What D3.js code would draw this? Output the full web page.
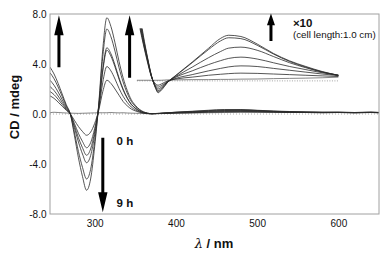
<!DOCTYPE html>
<html>
<head>
<meta charset="utf-8">
<script src="https://cdn.jsdelivr.net/npm/d3@7"></script>
<style>
  body { margin: 0; background: #fff; }
  svg { display: block; font-family: "Liberation Sans", Arial, sans-serif; }
</style>
</head>
<body>
<svg width="385" height="253"></svg>
<script>
// wavelengths (nm) of the main spectra
const wl = [245, 250, 255, 260, 265, 270, 275, 280, 285, 290, 295, 300,
            305, 310, 315, 320, 325, 330, 335, 340, 345, 350, 355, 360,
            370, 380,
            400, 420, 440, 460, 480, 500, 520, 540, 560, 580, 600, 620, 640, 650];

// CD (mdeg), 0 h ... 9 h
const cd0h = [0.1, 0.14, 0.12, 0.1, 0.08, 0.07, 0.06, 0.05, 0.06, 0.07, 0.08, 0.09,
              0.1, 0.1, 0.1, 0.12, 0.1, 0.09, 0.1, 0.08, 0.07, 0.06, 0.05, 0.04,
              0.02, 0.03,
              0.06, 0.08, 0.1, 0.12, 0.13, 0.14, 0.14, 0.12, 0.13, 0.12, 0.14, 0.12, 0.15, 0.13];
const cdA = [1.45, 1.25, 0.95, 0.62, 0.3, 0.0, -0.5, -1.0, -1.4, -1.7, -1.45, -0.75,
             0.3, 1.8, 2.7, 2.45, 2.0, 1.5, 1.0, 0.66, 0.4, 0.25, 0.14, 0.07,
             0.02, 0.04,
             0.08, 0.1, 0.14, 0.16, 0.18, 0.16, 0.14, 0.12, 0.12, 0.1, 0.12, 0.1, 0.12, 0.1];
const cdB = [1.8, 1.55, 1.18, 0.77, 0.37, 0.0, -0.75, -1.55, -2.2, -2.7, -2.3, -1.15,
             0.4, 2.55, 3.8, 3.45, 2.8, 2.05, 1.42, 0.93, 0.56, 0.34, 0.19, 0.09,
             0.02, 0.04,
             0.09, 0.12, 0.17, 0.2, 0.21, 0.19, 0.16, 0.14, 0.12, 0.11, 0.12, 0.1, 0.12, 0.11];
const cdC = [2.2, 1.88, 1.44, 0.94, 0.44, 0.0, -0.92, -1.9, -2.7, -3.3, -2.8, -1.4,
             0.55, 3.45, 5.1, 4.62, 3.77, 2.78, 1.92, 1.26, 0.76, 0.46, 0.25, 0.12,
             0.02, 0.05,
             0.11, 0.15, 0.21, 0.25, 0.26, 0.23, 0.19, 0.16, 0.14, 0.13, 0.13, 0.11, 0.13, 0.11];
const cdD = [2.7, 2.3, 1.76, 1.15, 0.54, 0.0, -1.09, -2.24, -3.2, -3.9, -3.33, -1.66,
             0.56, 3.6, 5.3, 4.82, 3.92, 2.89, 2.0, 1.3, 0.79, 0.48, 0.26, 0.12,
             0.03, 0.05,
             0.12, 0.17, 0.23, 0.28, 0.29, 0.25, 0.21, 0.17, 0.15, 0.13, 0.13, 0.11, 0.13, 0.12];
const cdE = [3.3, 2.82, 2.16, 1.41, 0.66, 0.0, -1.45, -3.0, -4.27, -5.2, -4.43, -2.2,
             0.7, 4.6, 6.8, 6.18, 5.03, 3.7, 2.56, 1.68, 1.02, 0.62, 0.34, 0.16,
             0.03, 0.05,
             0.14, 0.2, 0.27, 0.32, 0.33, 0.28, 0.22, 0.18, 0.15, 0.13, 0.13, 0.12, 0.13, 0.12];
const cd9h = [3.75, 3.2, 2.45, 1.6, 0.75, 0.0, -1.7, -3.5, -5.0, -6.1, -5.2, -2.6,
              0.8, 5.2, 7.7, 7.0, 5.7, 4.2, 2.9, 1.9, 1.15, 0.7, 0.38, 0.18,
              0.03, 0.05,
              0.15, 0.22, 0.3, 0.36, 0.36, 0.3, 0.24, 0.2, 0.16, 0.14, 0.14, 0.12, 0.14, 0.12];

// inset: same spectra x10, drawn on a shifted baseline
const insetWl = [352, 356, 360, 365, 370, 375, 378, 382, 390, 400, 420,
                 440, 455, 465, 480, 500, 520, 540, 560, 580, 600];
const insetBase = 2.65;
const insetTop = 4.2;
const ins0h = [0.05, 0.05, 0.05, 0.05, 0.05, 0.05, 0.05, 0.05, 0.08, 0.08, 0.1,
               0.1, 0.12, 0.12, 0.14, 0.15, 0.18, 0.2, 0.22, 0.25, 0.3];
const insA = [5.5, 4.1, 2.9, 1.5, 0.3, -0.25, -0.35, -0.25, 0.0, 0.15, 0.3,
              0.45, 0.53, 0.58, 0.62, 0.6, 0.55, 0.5, 0.45, 0.4, 0.35];
const insB = [5.8, 4.3, 3.0, 1.6, 0.32, -0.35, -0.5, -0.38, -0.05, 0.2, 0.5,
              0.8, 1.0, 1.12, 1.2, 1.15, 1.0, 0.85, 0.7, 0.55, 0.42];
const insC = [6.1, 4.5, 3.15, 1.7, 0.34, -0.45, -0.65, -0.5, -0.05, 0.3, 0.8,
              1.3, 1.62, 1.8, 1.9, 1.75, 1.45, 1.15, 0.9, 0.65, 0.45];
const insD = [6.4, 4.7, 3.3, 1.75, 0.36, -0.5, -0.78, -0.6, -0.08, 0.35, 1.1,
              1.85, 2.35, 2.62, 2.7, 2.45, 1.95, 1.45, 1.05, 0.7, 0.45];
const insE = [6.7, 4.95, 3.45, 1.82, 0.38, -0.55, -0.88, -0.68, -0.1, 0.42, 1.45,
              2.5, 3.2, 3.45, 3.38, 2.85, 2.15, 1.55, 1.1, 0.72, 0.45];
const ins9h = [7.0, 5.2, 3.6, 1.9, 0.4, -0.6, -0.95, -0.75, -0.1, 0.45, 1.5,
               2.6, 3.4, 3.65, 3.55, 2.95, 2.2, 1.6, 1.15, 0.75, 0.45];

const xTicks = [300, 400, 500, 600];
const yTicks = [8, 4, 0, -4, -8];

// arrows: wavelength, tail value, tip value
const arrowNm = [256, 343, 310, 517];
const arrowFrom = [3.75, 2.9, -1.9, 5.85];
const arrowTo = [7.9, 7.9, -7.85, 8.05];

const svg = d3.select("svg"),
      margin = {top: 14, right: 6, bottom: 39, left: 50},
      width = +svg.attr("width") - margin.left - margin.right,
      height = +svg.attr("height") - margin.top - margin.bottom;

const chartArea = svg.append("g")
                     .attr("transform", `translate(${margin.left},${margin.top})`);

const x = d3.scaleLinear().domain([245, 650]).range([0, width]);
const y = d3.scaleLinear().domain([-8, 8]).range([height, 0]);

svg.append("defs").append("clipPath").attr("id", "plotclip")
   .append("rect").attr("width", width).attr("height", height);
svg.select("defs").append("clipPath").attr("id", "insetclip")
   .append("rect").attr("y", y(insetBase + insetTop)).attr("width", width)
   .attr("height", height - y(insetBase + insetTop));

// axes
const xAxisGroup = chartArea.append("g")
  .attr("transform", `translate(0, ${height})`)
  .call(d3.axisBottom(x).tickValues(xTicks).tickSize(0).tickPadding(5.5));
const yAxisGroup = chartArea.append("g")
  .call(d3.axisLeft(y).tickValues(yTicks).tickSize(0).tickPadding(3.5)
          .tickFormat(d => d.toFixed(1)));
[xAxisGroup, yAxisGroup].forEach(g => {
  g.select(".domain").remove();
  g.selectAll("text").attr("font-size", 10).attr("fill", "#111")
   .attr("font-family", "Liberation Sans, Arial, sans-serif");
});

// zero line
chartArea.append("line")
  .attr("x1", 0).attr("x2", width).attr("y1", y(0)).attr("y2", y(0))
  .attr("stroke", "#999").attr("stroke-width", 0.8).attr("stroke-dasharray", "1,2");

// inset baseline
chartArea.append("line")
  .attr("x1", x(insetWl[0])).attr("x2", x(insetWl[insetWl.length - 1]))
  .attr("y1", y(insetBase)).attr("y2", y(insetBase))
  .attr("stroke", "#888").attr("stroke-width", 0.8).attr("stroke-dasharray", "1,1.5");

const line = d3.line()
  .x(d => x(d[0]))
  .y(d => y(d[1]))
  .curve(d3.curveMonotoneX);

const mainSeries = [cd0h, cdA, cdB, cdC, cdD, cdE, cd9h];
chartArea.append("g").attr("clip-path", "url(#plotclip)")
  .selectAll("path").data(mainSeries).enter()
  .append("path")
  .attr("d", s => line(s.map((v, i) => [wl[i], v])))
  .attr("fill", "none")
  .attr("stroke", (s, i) => i === 0 ? "#666" : "#2a2a2a")
  .attr("stroke-width", 0.8);

const insetSeries = [ins0h, insA, insB, insC, insD, insE, ins9h];
chartArea.append("g").attr("clip-path", "url(#insetclip)")
  .selectAll("path").data(insetSeries).enter()
  .append("path")
  .attr("d", s => line(s.map((v, i) => [insetWl[i], insetBase + v])))
  .attr("fill", "none")
  .attr("stroke", (s, i) => i === 0 ? "#666" : "#2a2a2a")
  .attr("stroke-width", 0.8);

// frame
chartArea.append("rect")
  .attr("width", width).attr("height", height)
  .attr("fill", "none").attr("stroke", "#a0a0a0").attr("stroke-width", 1);

// arrows
arrowNm.forEach((nm, i) => {
  const ax = x(nm), y0 = y(arrowFrom[i]), y1 = y(arrowTo[i]);
  const dir = Math.sign(y1 - y0);
  const head = Math.min(20, Math.abs(y1 - y0) * 0.43);
  const hw = i === 3 ? 4 : 4.7, sw = 1.5;
  const yh = y1 - dir * head;
  chartArea.append("path")
    .attr("d", `M${ax - sw},${y0}L${ax - sw},${yh}L${ax - hw},${yh}L${ax},${y1}` +
               `L${ax + hw},${yh}L${ax + sw},${yh}L${ax + sw},${y0}Z`)
    .attr("fill", "#000");
});

// annotations
const label = (t, nm, v, size, weight) => chartArea.append("text")
  .attr("x", x(nm)).attr("y", y(v))
  .attr("font-size", size).attr("font-weight", weight).attr("fill", "#111")
  .text(t);
label("0 h", 327, -2.5, 11.5, "bold");
label("9 h", 327, -7.45, 11.5, "bold");
label("\u00d710", 544, 6.95, 11.5, "bold");
label("(cell length:1.0 cm)", 544, 6.05, 9.8, "normal");

// axis titles
svg.append("text")
  .attr("transform", `translate(19, ${margin.top + height / 2 - 7}) rotate(-90)`)
  .attr("text-anchor", "middle")
  .attr("font-size", 13).attr("font-weight", "bold").attr("fill", "#111")
  .text("CD / mdeg");

const xt = svg.append("text")
  .attr("x", 214).attr("y", 248)
  .attr("text-anchor", "middle")
  .attr("font-size", 13).attr("font-weight", "bold").attr("fill", "#111");
xt.append("tspan").attr("font-style", "italic").attr("font-weight", "normal")
  .attr("font-family", "DejaVu Serif, serif").text("\u03bb");
xt.append("tspan").text(" / nm");
</script>
</body>
</html>
